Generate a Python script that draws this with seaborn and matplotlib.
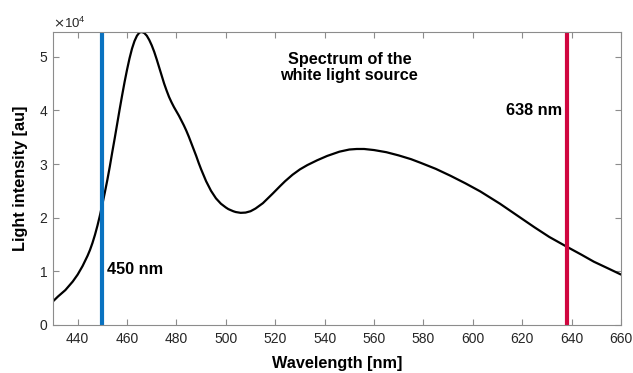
import seaborn as sns
import matplotlib.pyplot as plt
import pandas as pd
from matplotlib.ticker import ScalarFormatter

# spectrum of the white light source (intensity in au)
wavelength = [430, 432, 435, 438, 440, 442, 444, 445, 446, 447, 448, 449, 450,
              451, 452, 453, 454, 455, 456, 457, 458, 459, 460, 461, 462, 463,
              464, 465, 466, 467, 468, 469, 470, 471, 472, 473, 474, 475, 476,
              477, 478, 479, 480, 481, 482, 483, 484, 485, 486, 487, 488, 489,
              490, 491, 492, 494, 496, 498, 500, 501, 503, 504, 506, 508, 510,
              512, 515, 517, 519, 522, 524, 527, 530, 533, 537, 541, 546, 550,
              553, 556, 560, 565, 570, 575, 579, 585, 591, 597, 603, 611, 618,
              625, 631, 638, 644, 649, 655, 660]
intensity = [4400, 5300, 6500, 8100, 9400, 11000, 12900, 14000, 15300, 16800,
             18500, 20400, 22500, 24700, 27000, 29500, 32200, 34800, 37500,
             40200, 42800, 45300, 47600, 49700, 51500, 52900, 53900, 54500,
             54600, 54400, 53900, 53100, 52100, 50900, 49500, 48000, 46500,
             45000, 43700, 42500, 41500, 40600, 39800, 39000, 38100, 37200,
             36200, 35100, 33900, 32700, 31500, 30200, 29000, 27900, 26800,
             25000, 23600, 22600, 21900, 21600, 21200, 21050, 20900, 20950,
             21200, 21700, 22700, 23600, 24500, 25900, 26800, 28000, 29000,
             29800, 30700, 31500, 32300, 32700, 32800, 32800, 32600, 32200,
             31600, 30900, 30200, 29100, 27800, 26400, 24900, 22600, 20400,
             18200, 16400, 14600, 13100, 11800, 10500, 9400]

laser_lines = [450, 638]
laser_colors = ['#0A72C0', '#D0063F']
laser_labels = ['450 nm', '638 nm']

df = pd.DataFrame({'wl': wavelength, 'I': intensity})

sns.set_style('ticks')
plt.rcParams['font.family'] = ['Liberation Sans', 'DejaVu Sans']

fig = plt.figure(figsize=(6.33, 3.73), dpi=100)
ax = fig.add_axes([0.0837, 0.1287, 0.8973, 0.7855])

sns.lineplot(data=df, x='wl', y='I', color='black', linewidth=1.6, ax=ax)
for wl, c in zip(laser_lines, laser_colors):
    ax.axvline(wl, color=c, linewidth=3)

ax.text(451.8, 10400, laser_labels[0], fontsize=11.7, fontweight='bold',
        ha='left', va='center', color='black')
ax.text(636, 40000, laser_labels[1], fontsize=11.7, fontweight='bold',
        ha='right', va='center', color='black')
ax.text(550, 48000, 'Spectrum of the\nwhite light source', fontsize=11.7,
        fontweight='bold', ha='center', va='center', linespacing=1.1,
        color='black')

ax.set_xlim(430, 660)
ax.set_ylim(0, 54600)
ax.set_xticks(range(440, 661, 20))
ax.set_yticks([0, 10000, 20000, 30000, 40000, 50000])

fmt = ScalarFormatter(useMathText=True)
fmt.set_powerlimits((0, 0))
ax.yaxis.set_major_formatter(fmt)
ax.yaxis.get_offset_text().set_fontsize(9.5)
ax.yaxis.get_offset_text().set_color('#262626')

ax.set_xlabel('Wavelength [nm]', fontsize=11.7, fontweight='bold',
              color='black', labelpad=7)
ax.set_ylabel('Light intensity [au]', fontsize=11.7, fontweight='bold',
              color='black', labelpad=8)

for s in ax.spines.values():
    s.set_visible(True)
    s.set_color('#8c8c8c')
    s.set_linewidth(0.8)
ax.tick_params(direction='in', top=True, right=True, labelsize=10,
               colors='#8c8c8c', labelcolor='#262626', length=4)
ax.tick_params(axis='x', pad=5)

fig.savefig('out.png', dpi=100)
